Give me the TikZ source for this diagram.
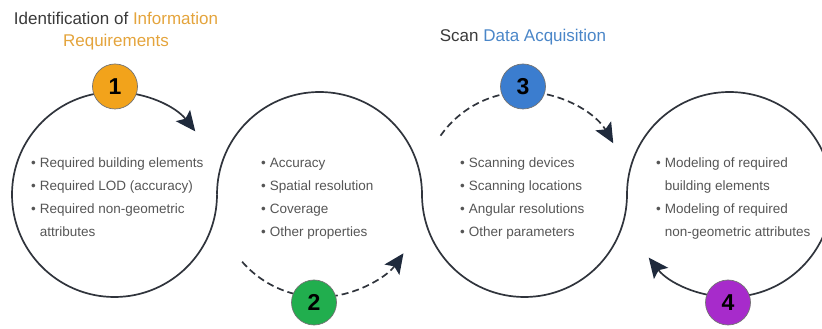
\documentclass[tikz,border=0pt]{standalone}
\usepackage{fontspec}
\setmainfont{Liberation Sans}
\usetikzlibrary{arrows.meta}

\definecolor{ringline}{HTML}{30343C}
\definecolor{tipnavy}{HTML}{1F2A3C}
\definecolor{txtgray}{HTML}{555555}
\definecolor{titlegray}{HTML}{3A3A3A}
\definecolor{gold}{HTML}{E4A43C}
\definecolor{skyblue}{HTML}{4A86C8}
\definecolor{badgeorange}{HTML}{F2A31B}
\definecolor{badgegreen}{HTML}{21AE4E}
\definecolor{badgeblue}{HTML}{3B7DCF}
\definecolor{badgepurple}{HTML}{A72BCB}

\tikzset{
  ring/.style={draw=ringline, line width=1.7pt},
  ringdash/.style={ring, dash pattern=on 7pt off 4pt},
  tip/.style={-{Stealth[length=20pt,width=18pt,inset=4pt,color=tipnavy]}},
  badge/.style={circle, minimum size=45pt, inner sep=0pt, draw=black!55,
    line width=0.7pt, font=\fontsize{23}{23}\selectfont\bfseries},
  items/.style={anchor=base west, inner sep=0pt, text=txtgray,
    font=\fontsize{13.5}{23}\selectfont},
  heading/.style={align=center, text=titlegray,
    font=\fontsize{17}{22}\selectfont}
}

\begin{document}
\begin{tikzpicture}[x=1pt,y=1pt]
	\useasboundingbox (0,0) rectangle (822,329);
	\clip (0,0) rectangle (822,329);
	\def\rr{102.5}

	\coordinate (c1) at (114.5,134.5);
	\coordinate (c2) at (319.5,134.5);
	\coordinate (c3) at (524.5,134.5);
	\coordinate (c4) at (729.5,134.5);

	% rings
	\draw [ring, tip](c1) ++(0:\rr) arc[start angle=0, end angle=-322, radius=\rr];
	\draw [ring, tip](c2) ++(180:\rr) arc[start angle=180, end angle=0, radius=\rr]
		arc[start angle=180, end angle=360, radius=\rr]
		arc[start angle=180, end angle=-142, radius=\rr];
	\draw [ringdash, tip](c2) ++(-139:\rr) arc[start angle=-139, end angle=-35, radius=\rr];
	\draw [ringdash, tip](c3) ++(145:\rr) arc[start angle=145, end angle=30, radius=\rr];

	% badges
	\node [badge, fill=badgeorange] at (115,242.5) (b1) {1};
	\node [badge, fill=badgegreen] at (314,26.5) (b2) {2};
	\node [badge, fill=badgeblue] at (523,242.5) (b3) {3};
	\node [badge, fill=badgepurple] at (728,26.5) (b4) {4};

	% headings
	\node [heading] at (116,298) (h1) {Identification of {\color{gold}Information}\\
		\color{gold}Requirements};
	\node [heading] at (523,292) (h3) {Scan {\color{skyblue}Data Acquisition}};

	% lists
	\node [items] at (31,161) (l1) {\begin{tabular}[t]{@{}l@{\hspace{4pt}}l@{}}
		\textbullet & Required building elements\\
		\textbullet & Required LOD (accuracy)\\
		\textbullet & Required non-geometric\\
		 & attributes
	\end{tabular}};
	\node [items] at (261,161) (l2) {\begin{tabular}[t]{@{}l@{\hspace{4pt}}l@{}}
		\textbullet & Accuracy\\
		\textbullet & Spatial resolution\\
		\textbullet & Coverage\\
		\textbullet & Other properties
	\end{tabular}};
	\node [items] at (460,161) (l3) {\begin{tabular}[t]{@{}l@{\hspace{4pt}}l@{}}
		\textbullet & Scanning devices\\
		\textbullet & Scanning locations\\
		\textbullet & Angular resolutions\\
		\textbullet & Other parameters
	\end{tabular}};
	\node [items] at (656,161) (l4) {\begin{tabular}[t]{@{}l@{\hspace{4pt}}l@{}}
		\textbullet & Modeling of required\\
		 & building elements\\
		\textbullet & Modeling of required\\
		 & non-geometric attributes
	\end{tabular}};

\end{tikzpicture}
\end{document}
